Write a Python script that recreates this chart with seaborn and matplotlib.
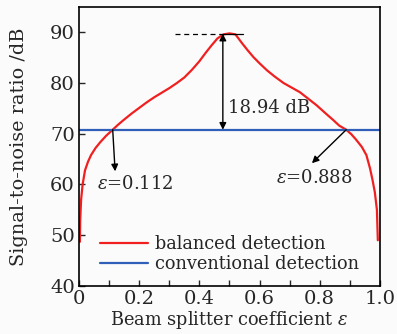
import matplotlib
matplotlib.use("Agg")
import matplotlib.pyplot as plt
import seaborn as sns
import pandas as pd

# Data
eps = [0.003, 0.004, 0.007, 0.012, 0.02, 0.03, 0.04, 0.055, 0.07, 0.09, 0.112,
       0.13, 0.15, 0.175, 0.2, 0.225, 0.25, 0.275, 0.3, 0.325, 0.35, 0.375,
       0.4, 0.42, 0.44, 0.46, 0.48, 0.5, 0.52, 0.54, 0.56, 0.58, 0.6, 0.625,
       0.65, 0.68, 0.71, 0.734, 0.76, 0.79, 0.82, 0.845, 0.865, 0.888, 0.905,
       0.92, 0.94, 0.955, 0.967, 0.975, 0.983, 0.99, 0.993]
snr_balanced = [48.7, 53.0, 57.0, 60.0, 62.8, 64.5, 65.8, 67.2, 68.3, 69.6, 70.8,
                71.8, 72.8, 74.0, 75.1, 76.2, 77.2, 78.1, 79.0, 80.0, 81.1, 82.6,
                84.3, 85.9, 87.4, 88.8, 89.6, 89.8, 89.6, 88.0, 86.5, 85.1, 83.9, 82.5,
                81.3, 80.0, 79.0, 78.2, 77.0, 75.6, 74.0, 72.7, 71.6, 70.8, 69.9,
                68.9, 67.4, 65.8, 63.2, 61.0, 58.5, 55.0, 49.0]
conv_eps = [0.0, 1.0]
snr_conventional = [70.8, 70.8]
peak = 89.74
diff_label = "18.94 dB"
cross_left = 0.112
cross_right = 0.888

sns.set_style("ticks")
plt.rcParams['font.family'] = ['DejaVu Serif']
plt.rcParams['mathtext.fontset'] = 'dejavuserif'

fig = plt.figure(figsize=(3.97, 3.34), dpi=100)
fig.patch.set_facecolor("#fbfbfb")
ax = fig.add_axes([0.199, 0.144, 0.758, 0.835])
ax.set_facecolor("#fbfbfb")

df_b = pd.DataFrame({"eps": eps, "snr": snr_balanced})
df_c = pd.DataFrame({"eps": conv_eps, "snr": snr_conventional})
sns.lineplot(data=df_b, x="eps", y="snr", ax=ax, color="#f02020", lw=1.6,
             estimator=None, sort=False, label="balanced detection")
sns.lineplot(data=df_c, x="eps", y="snr", ax=ax, color="#2f5fb8", lw=1.6,
             estimator=None, sort=False, label="conventional detection")

ax.set_xlim(0, 1.0)
ax.set_ylim(40, 95)
ax.set_xticks([0, 0.2, 0.4, 0.6, 0.8, 1.0])
ax.set_xticklabels(["0", "0.2", "0.4", "0.6", "0.8", "1.0"])
ax.set_xticks([0.1, 0.3, 0.5, 0.7, 0.9], minor=True)
ax.set_yticks([40, 50, 60, 70, 80, 90])
ax.tick_params(axis="both", which="both", direction="in", labelsize=14,
               length=4, width=1, pad=3)
for s in ax.spines.values():
    s.set_linewidth(1.2)
    s.set_color("black")

ax.set_xlabel(r"Beam splitter coefficient $\varepsilon$", fontsize=12.8, labelpad=1)
ax.set_ylabel("Signal-to-noise ratio /dB", fontsize=13.9)
ax.yaxis.set_label_coords(-0.17, 0.50)

# Peak reference line
ax.plot([0.32, 0.47], [peak, peak], color="black", lw=0.9, ls=(0, (4, 3)))
ax.plot([0.47, 0.545], [peak, peak], color="black", lw=0.9)
# Double arrow
ax.annotate("", xy=(0.478, snr_conventional[0]), xytext=(0.478, peak),
            arrowprops=dict(arrowstyle="<|-|>", color="black", lw=1.0,
                            mutation_scale=10, shrinkA=0, shrinkB=0))
ax.text(0.495, 75.0, diff_label, fontsize=13, va="center", ha="left")

# Crossing arrows
ax.annotate("", xy=(0.12, 62.6), xytext=(cross_left, 70.8),
            arrowprops=dict(arrowstyle="-|>", color="black", lw=1.0,
                            mutation_scale=10, shrinkA=0, shrinkB=0))
ax.text(0.06, 60.1, r"$\varepsilon$=0.112", fontsize=13, va="center", ha="left")
ax.annotate("", xy=(0.774, 64.2), xytext=(cross_right, 70.8),
            arrowprops=dict(arrowstyle="-|>", color="black", lw=1.0,
                            mutation_scale=10, shrinkA=0, shrinkB=0))
ax.text(0.655, 61.3, r"$\varepsilon$=0.888", fontsize=13, va="center", ha="left")

leg = ax.legend(loc="lower left", bbox_to_anchor=(0.03, 0.0), frameon=False,
                fontsize=12.8, handlelength=2.65, handletextpad=0.4,
                labelspacing=0.12, borderaxespad=0.3)

fig.savefig("out.png", dpi=100, facecolor=fig.get_facecolor())
